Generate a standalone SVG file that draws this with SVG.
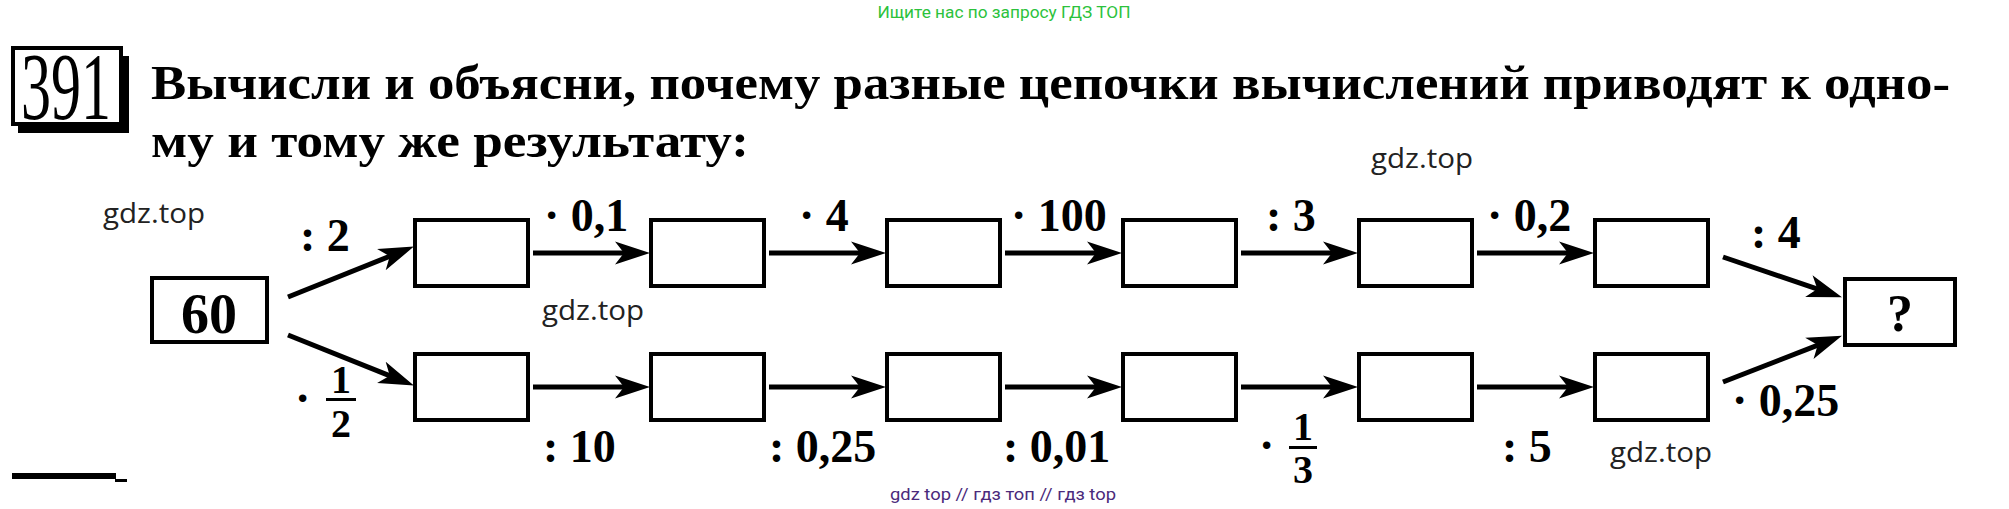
<svg xmlns="http://www.w3.org/2000/svg" width="2009" height="509" viewBox="0 0 2009 509">
<defs>
<style>
.title{font-family:"Liberation Serif",serif;font-weight:bold;font-size:49px;fill:#000}
.lbl{font-family:"Liberation Serif",serif;font-weight:bold;font-size:46px;fill:#000}
.frac{font-family:"Liberation Serif",serif;font-weight:bold;font-size:40px;fill:#000;text-anchor:middle}
.val{font-family:"Liberation Serif",serif;font-weight:bold;fill:#000;text-anchor:middle}
.box{fill:#fff;stroke:#000;stroke-width:4}
.edge{stroke:#000;stroke-width:5;fill:none;marker-end:url(#ah)}
.wm{font-family:"Open Sans","Noto Sans",sans-serif;font-size:28px;fill:#222}
</style>
<marker id="ah" markerUnits="userSpaceOnUse" viewBox="0 0 40 30" markerWidth="40" markerHeight="30" refX="14" refY="12" orient="auto">
<path d="M0,0.5 L35,12 L0,23.5 L9,12 Z" fill="#000"/>
</marker>
</defs>
<rect width="2009" height="509" fill="#fff"/>

<text x="1004" y="18" font-family="Roboto,'Liberation Sans',sans-serif" font-size="16" fill="#2cc23c" text-anchor="middle" textLength="253" lengthAdjust="spacingAndGlyphs">Ищите нас по запросу ГДЗ ТОП</text>

<g id="num391">
<rect x="13" y="48" width="108" height="76" fill="#fff" stroke="#000" stroke-width="4"/>
<rect x="121" y="56" width="8" height="77" fill="#000"/>
<rect x="18" y="124" width="111" height="9" fill="#000"/>
<text x="21" y="119" font-family="'Liberation Serif',serif" font-size="96" textLength="90" lengthAdjust="spacingAndGlyphs">391</text>
</g>

<text class="title" x="151" y="99" textLength="1799" lengthAdjust="spacingAndGlyphs">Вычисли и объясни, почему разные цепочки вычислений приводят к одно-</text>
<text class="title" x="151" y="157" textLength="598" lengthAdjust="spacingAndGlyphs">му и тому же результату:</text>

<g id="connectors">
<line class="edge" x1="288" y1="297" x2="394.4" y2="254.4"/>
<line class="edge" x1="288" y1="335" x2="394.4" y2="377.6"/>
<line class="edge" x1="533" y1="253" x2="629" y2="253"/>
<line class="edge" x1="769" y1="253" x2="865" y2="253"/>
<line class="edge" x1="1005" y1="253" x2="1101" y2="253"/>
<line class="edge" x1="1241" y1="253" x2="1337" y2="253"/>
<line class="edge" x1="1477" y1="253" x2="1573" y2="253"/>
<line class="edge" x1="533" y1="387" x2="629" y2="387"/>
<line class="edge" x1="769" y1="387" x2="865" y2="387"/>
<line class="edge" x1="1005" y1="387" x2="1101" y2="387"/>
<line class="edge" x1="1241" y1="387" x2="1337" y2="387"/>
<line class="edge" x1="1477" y1="387" x2="1573" y2="387"/>
<line class="edge" x1="1723" y1="257" x2="1822.1" y2="290.6"/>
<line class="edge" x1="1723" y1="382" x2="1822.4" y2="343.3"/>
</g>

<g id="n60"><rect class="box" x="152" y="278" width="115" height="64"/><text class="val" x="209" y="333" font-size="56">60</text></g>
<g id="a1"><rect class="box" x="415" y="220" width="113" height="66"/></g>
<g id="a2"><rect class="box" x="651" y="220" width="113" height="66"/></g>
<g id="a3"><rect class="box" x="887" y="220" width="113" height="66"/></g>
<g id="a4"><rect class="box" x="1123" y="220" width="113" height="66"/></g>
<g id="a5"><rect class="box" x="1359" y="220" width="113" height="66"/></g>
<g id="a6"><rect class="box" x="1595" y="220" width="113" height="66"/></g>
<g id="b1"><rect class="box" x="415" y="354" width="113" height="66"/></g>
<g id="b2"><rect class="box" x="651" y="354" width="113" height="66"/></g>
<g id="b3"><rect class="box" x="887" y="354" width="113" height="66"/></g>
<g id="b4"><rect class="box" x="1123" y="354" width="113" height="66"/></g>
<g id="b5"><rect class="box" x="1359" y="354" width="113" height="66"/></g>
<g id="b6"><rect class="box" x="1595" y="354" width="113" height="66"/></g>
<g id="result"><rect class="box" x="1845" y="279" width="110" height="66"/><text class="val" x="1900" y="331" font-size="52">?</text></g>

<g id="labels">
<text class="lbl" x="300" y="251">: 2</text>
<text class="lbl" x="544" y="231">· 0,1</text>
<text class="lbl" x="799" y="231">· 4</text>
<text class="lbl" x="1011" y="231">· 100</text>
<text class="lbl" x="1266" y="231">: 3</text>
<text class="lbl" x="1487" y="231">· 0,2</text>
<text class="lbl" x="1751" y="248">: 4</text>
<text class="lbl" x="1732" y="416">· 0,25</text>
<text class="lbl" x="543" y="462">: 10</text>
<text class="lbl" x="769" y="462">: 0,25</text>
<text class="lbl" x="1003" y="462">: 0,01</text>
<text class="lbl" x="1502" y="462">: 5</text>
<text class="lbl" x="295" y="414">·</text>
<text class="frac" x="341" y="393">1</text>
<rect x="326" y="398" width="30" height="3" fill="#000"/>
<text class="frac" x="341" y="437">2</text>
<text class="lbl" x="1259" y="461">·</text>
<text class="frac" x="1303" y="440">1</text>
<rect x="1289" y="446" width="28" height="3" fill="#000"/>
<text class="frac" x="1303" y="483">3</text>
</g>

<text class="wm" x="103" y="223" textLength="102" lengthAdjust="spacingAndGlyphs">gdz.top</text>
<text class="wm" x="542" y="320" textLength="102" lengthAdjust="spacingAndGlyphs">gdz.top</text>
<text class="wm" x="1371" y="168" textLength="102" lengthAdjust="spacingAndGlyphs">gdz.top</text>
<text class="wm" x="1610" y="462" textLength="102" lengthAdjust="spacingAndGlyphs">gdz.top</text>

<rect x="0" y="484" width="2009" height="25" fill="#fff"/>
<rect x="12" y="473" width="104" height="6" fill="#000"/>
<rect x="115" y="479" width="12" height="3" fill="#000"/>

<text x="1003" y="500" font-family="Roboto,'Liberation Sans',sans-serif" font-size="17" fill="#4b2a7b" text-anchor="middle" textLength="226" lengthAdjust="spacingAndGlyphs">gdz top  //  гдз топ  //  гдз top</text>
</svg>
